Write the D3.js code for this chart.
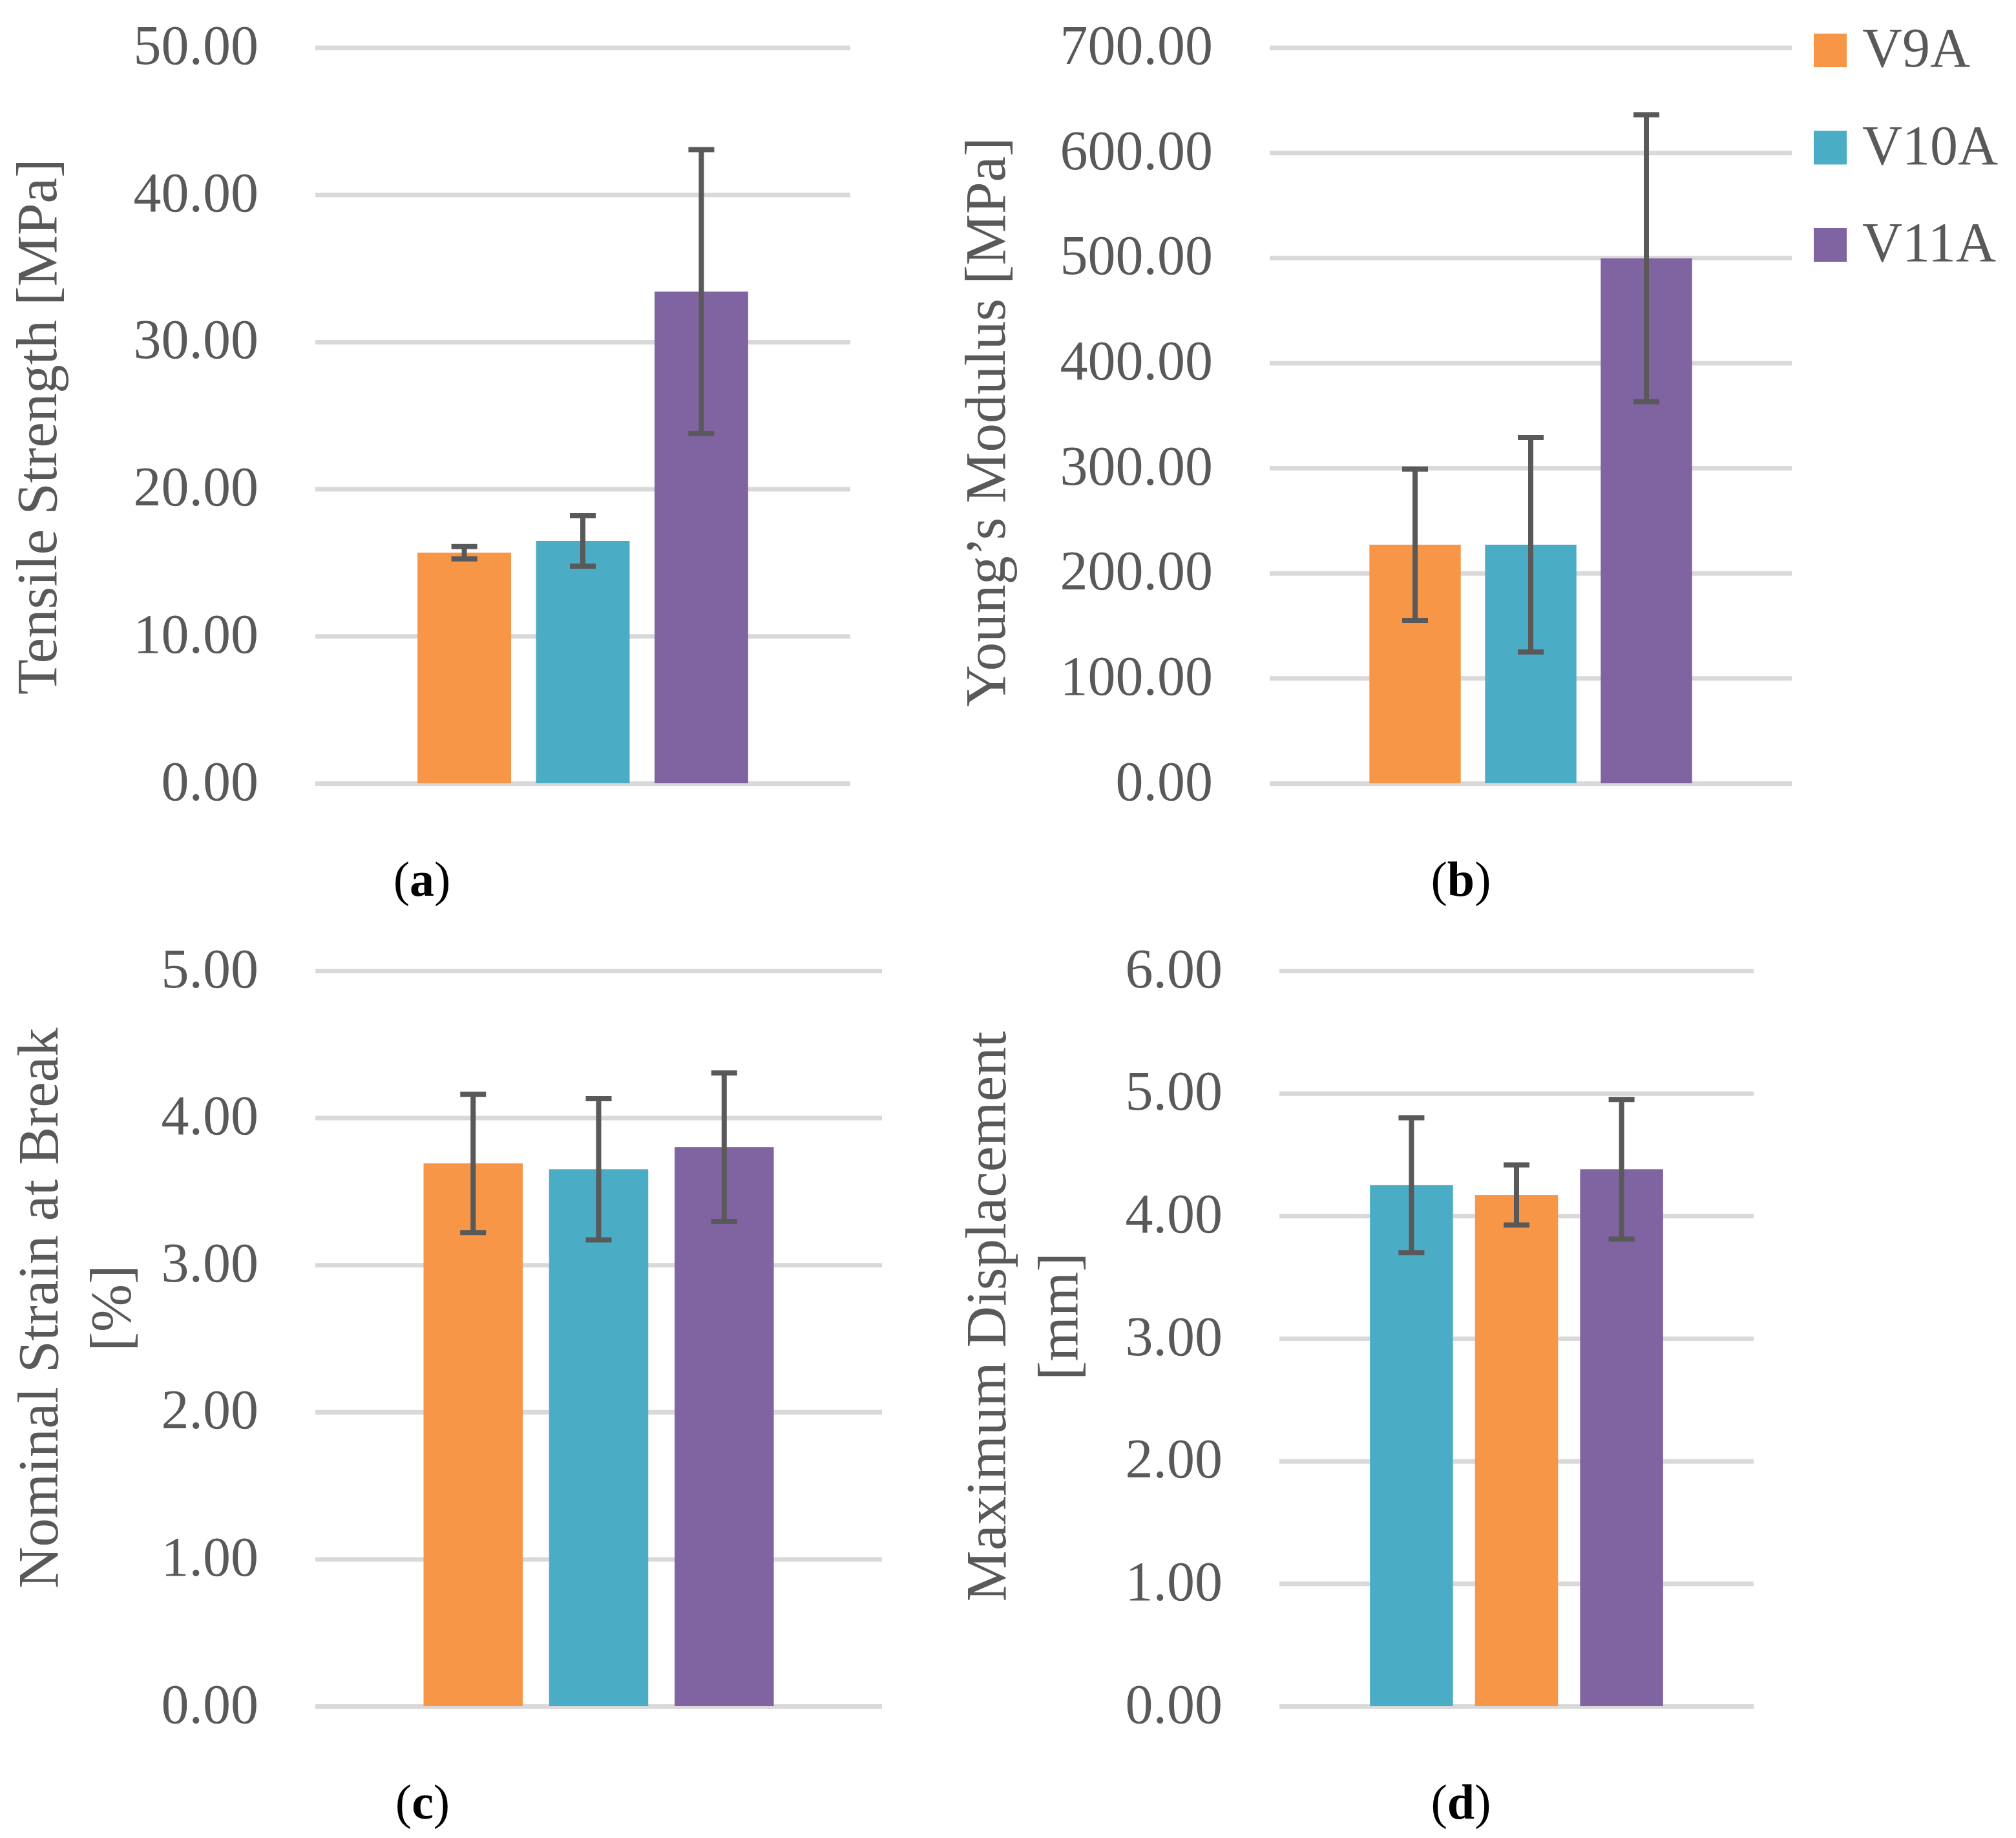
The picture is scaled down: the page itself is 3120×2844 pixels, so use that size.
<!DOCTYPE html>
<html>
<head>
<meta charset="utf-8">
<script src="https://cdn.jsdelivr.net/npm/d3@7"></script>
<style>
  body { margin: 0; background: #fff; }
  text { font-family: "Palatino Linotype", "Book Antiqua", Palatino, "Liberation Serif", serif; }
</style>
</head>
<body>
<svg id="fig" width="3120" height="2844"></svg>
<script>
// series
const seriesNames = ["V9A", "V10A", "V11A"];
const seriesColors = ["#F79646", "#4BACC6", "#8064A2"];

// (a) tensile strength [MPa]
const tensileMean = [15.67, 16.47, 33.41];
const tensileErr = [0.42, 1.71, 9.65];
const tensileTicks = [0, 10, 20, 30, 40, 50];

// (b) young's modulus [MPa]
const modulusMean = [227, 227, 499.5];
const modulusErr = [72, 102, 136.5];
const modulusTicks = [0, 100, 200, 300, 400, 500, 600, 700];

// (c) nominal strain at break [%]
const strainMean = [3.69, 3.65, 3.80];
const strainErr = [0.47, 0.48, 0.505];
const strainTicks = [0, 1, 2, 3, 4, 5];

// (d) maximum displacement [mm] -- bars are drawn V10A, V9A, V11A in the figure
const dispMean = [4.17, 4.25, 4.38];
const dispErr = [0.245, 0.55, 0.57];
const dispTicks = [0, 1, 2, 3, 4, 5, 6];
const dispOrder = ["V10A", "V9A", "V11A"];

const textColor = "#595959";
const gridColor = "#D9D9D9";

const panels = [
  { mean: tensileMean, err: tensileErr, ticks: tensileTicks, order: seriesNames,
    title: ["Tensile Strength [MPa]"], caption: "a",
    left: 488, right: 1316, top: 73.5, bottom: 1212, titleX: 87, titleY: 660, capX: 653, capY: 1386 },
  { mean: modulusMean, err: modulusErr, ticks: modulusTicks, order: seriesNames,
    title: ["Young\u2019s Modulus [MPa]"], caption: "b",
    left: 1965, right: 2773, top: 73.5, bottom: 1212, titleX: 1555, titleY: 653, capX: 2261, capY: 1386 },
  { mean: strainMean, err: strainErr, ticks: strainTicks, order: seriesNames,
    title: ["Nominal Strain at Break", "[%]"], caption: "c",
    left: 488, right: 1365, top: 1502, bottom: 2640, titleX: 89, titleY: 2024, capX: 654, capY: 2814 },
  { mean: dispMean, err: dispErr, ticks: dispTicks, order: dispOrder,
    title: ["Maximum Displacement", "[mm]"], caption: "d",
    left: 1980, right: 2714, top: 1502, bottom: 2640, titleX: 1556, titleY: 2037, capX: 2261, capY: 2814 }
];

const svg = d3.select("#fig");
const color = d3.scaleOrdinal().domain(seriesNames).range(seriesColors);

panels.forEach(p => {
  const g = svg.append("g");
  const y = d3.scaleLinear().domain(d3.extent(p.ticks)).range([p.bottom, p.top]);
  const x0 = d3.scaleBand().domain([""]).range([p.left, p.right]).paddingInner(0).paddingOuter(0.309);
  const x1 = d3.scaleBand().domain(p.order).range([x0(""), x0("") + x0.bandwidth()]).paddingInner(0.21).paddingOuter(0);

  // gridlines + tick labels
  const ax = g.append("g").attr("transform", `translate(${p.left},0)`)
    .call(d3.axisLeft(y).tickValues(p.ticks).tickFormat(d3.format(".2f"))
      .tickSize(-(p.right - p.left)).tickPadding(88));
  ax.select(".domain").remove();
  ax.selectAll(".tick line").attr("stroke", gridColor).attr("stroke-width", 7);
  ax.selectAll(".tick text").attr("fill", textColor).attr("font-size", 86)
    .attr("dy", null).attr("y", 25)
    .style("font-family", '"Palatino Linotype", "Book Antiqua", Palatino, "Liberation Serif", serif');

  const rows = seriesNames.map((s, i) => ({ key: s, v: p.mean[i], e: p.err[i] }));

  g.selectAll("rect.bar").data(rows).join("rect").attr("class", "bar")
    .attr("x", d => x1(d.key))
    .attr("width", x1.bandwidth())
    .attr("y", d => y(d.v))
    .attr("height", d => y(0) - y(d.v))
    .attr("fill", d => color(d.key));

  // error bars
  const cx = d => x1(d.key) + x1.bandwidth() / 2;
  const eb = g.selectAll("g.err").data(rows).join("g").attr("class", "err")
    .attr("stroke", textColor).attr("stroke-width", 8);
  eb.append("line")
    .attr("x1", cx).attr("x2", cx)
    .attr("y1", d => y(d.v + d.e)).attr("y2", d => y(d.v - d.e));
  eb.append("line")
    .attr("x1", d => cx(d) - 20).attr("x2", d => cx(d) + 20)
    .attr("y1", d => y(d.v + d.e)).attr("y2", d => y(d.v + d.e));
  eb.append("line")
    .attr("x1", d => cx(d) - 20).attr("x2", d => cx(d) + 20)
    .attr("y1", d => y(d.v - d.e)).attr("y2", d => y(d.v - d.e));

  // y title
  const t = g.append("text")
    .attr("transform", `translate(${p.titleX},${p.titleY}) rotate(-90)`)
    .attr("text-anchor", "middle").attr("fill", textColor).attr("font-size", 89);
  t.selectAll("tspan").data(p.title).join("tspan")
    .attr("x", 0).attr("dy", (d, i) => i === 0 ? 0 : 112).text(d => d);

  // caption
  const c = g.append("text").attr("x", p.capX).attr("y", p.capY)
    .attr("text-anchor", "middle").attr("fill", "#000").attr("font-size", 76);
  c.append("tspan").text("(");
  c.append("tspan").attr("font-weight", "bold").text(p.caption);
  c.append("tspan").text(")");
});

// legend
const leg = svg.append("g").attr("transform", "translate(2807,52)");
const li = leg.selectAll("g").data(seriesNames).join("g")
  .attr("transform", (d, i) => `translate(0,${i * 150.5})`);
li.append("rect").attr("width", 51).attr("height", 52).attr("fill", d => color(d));
li.append("text").attr("x", 75).attr("y", 51).attr("font-size", 86).attr("fill", textColor).text(d => d);
</script>
</body>
</html>
